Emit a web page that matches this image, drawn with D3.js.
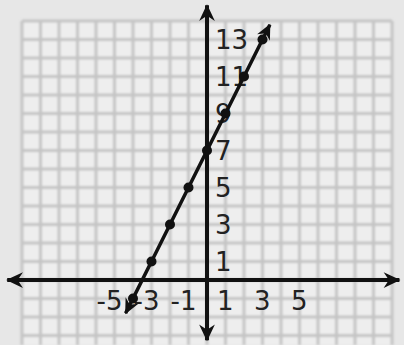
<!DOCTYPE html>
<html>
<head>
<style>
	body { margin: 0; background: #e7e7e7; }
	svg text { font-family: "DejaVu Sans", Verdana, sans-serif; font-size: 26px; fill: #222; }
</style>
<script src="https://d3js.org/d3.v7.min.js"></script>
</head>
<body>
<svg class="graph"></svg>
<script>
	// values
	var xTicks = [-5, -3, -1, 1, 3, 5];
	var yTicks = [1, 3, 5, 7, 9, 11, 13];
	var pointX = [-4, -3, -2, -1, 0, 1, 2, 3];
	var pointY = [-1, 1, 3, 5, 7, 9, 11, 13];
	var lineX = [-4.4, 3.4];
	var lineY = [-1.8, 13.8];
	var gridX = d3.range(-10, 11);
	var gridY = d3.range(-3, 15);
	var xAxisEnds = [-10.8, 10.4];
	var yAxisEnds = [-3.25, 14.85];

	var width = 404, height = 345;

	var x = d3.scaleLinear().domain([-10, 10]).range([22, 392]);
	var y = d3.scaleLinear().domain([-3.5, 14]).range([344.75, 21]);

	var svg = d3.select(".graph")
		.attr("width", width)
		.attr("height", height);

	var defs = svg.append("defs");
	defs.append("filter").attr("id", "soft")
		.append("feGaussianBlur").attr("stdDeviation", 1.1);

	function arrow(id, size) {
		defs.append("marker")
			.attr("id", id)
			.attr("markerUnits", "userSpaceOnUse")
			.attr("viewBox", "-16 -8 18 16")
			.attr("refX", 0).attr("refY", 0)
			.attr("markerWidth", 18 * size).attr("markerHeight", 16 * size)
			.attr("orient", "auto-start-reverse")
			.append("path")
			.attr("d", "M1,0 L-15,-7.5 L-10,0 L-15,7.5 Z")
			.attr("fill", "#111");
	}
	arrow("axisArrow", 1.05);
	arrow("lineArrow", 0.95);

	// background grid
	var grid = svg.append("g").attr("filter", "url(#soft)");
	grid.append("rect")
		.attr("x", x(-10)).attr("y", y(14))
		.attr("width", x(10) - x(-10))
		.attr("height", height - y(14))
		.attr("fill", "#eeeeee");
	grid.selectAll("line.gx")
		.data(gridX)
		.enter().append("line")
		.attr("class", "gx")
		.attr("x1", function (d) { return x(d); })
		.attr("x2", function (d) { return x(d); })
		.attr("y1", y(14))
		.attr("y2", height)
		.attr("stroke", "#c4c4c4")
		.attr("stroke-width", 3);
	grid.selectAll("line.gy")
		.data(gridY)
		.enter().append("line")
		.attr("class", "gy")
		.attr("x1", x(-10))
		.attr("x2", x(10))
		.attr("y1", function (d) { return y(d); })
		.attr("y2", function (d) { return y(d); })
		.attr("stroke", "#c4c4c4")
		.attr("stroke-width", 3);

	// axes with arrows at both ends
	svg.append("line")
		.attr("x1", x(xAxisEnds[0])).attr("x2", x(xAxisEnds[1]))
		.attr("y1", y(0)).attr("y2", y(0))
		.attr("stroke", "#111").attr("stroke-width", 4)
		.attr("marker-start", "url(#axisArrow)")
		.attr("marker-end", "url(#axisArrow)");
	svg.append("line")
		.attr("x1", x(0)).attr("x2", x(0))
		.attr("y1", y(yAxisEnds[0])).attr("y2", y(yAxisEnds[1]))
		.attr("stroke", "#111").attr("stroke-width", 4)
		.attr("marker-start", "url(#axisArrow)")
		.attr("marker-end", "url(#axisArrow)");

	// tick labels
	svg.selectAll("text.xl")
		.data(xTicks)
		.enter().append("text")
		.attr("class", "xl")
		.attr("x", function (d) { return x(d) + 8; })
		.attr("y", y(0) + 30)
		.attr("text-anchor", "end")
		.text(function (d) { return d < 0 ? "-" + Math.abs(d) : d; });
	svg.selectAll("text.yl")
		.data(yTicks)
		.enter().append("text")
		.attr("class", "yl")
		.attr("x", x(0) + 8)
		.attr("y", function (d) { return y(d) + 9.5; })
		.text(function (d) { return d; });

	// the line and its points
	var pts = pointX.map(function (d, i) { return [d, pointY[i]]; });
	svg.append("line")
		.attr("x1", x(lineX[0])).attr("y1", y(lineY[0]))
		.attr("x2", x(lineX[1])).attr("y2", y(lineY[1]))
		.attr("stroke", "#111").attr("stroke-width", 3.5)
		.attr("marker-start", "url(#lineArrow)")
		.attr("marker-end", "url(#lineArrow)");
	svg.selectAll("circle.pt")
		.data(pts)
		.enter().append("circle")
		.attr("class", "pt")
		.attr("cx", function (d) { return x(d[0]); })
		.attr("cy", function (d) { return y(d[1]); })
		.attr("r", 5)
		.attr("fill", "#111");
</script>
</body>
</html>
